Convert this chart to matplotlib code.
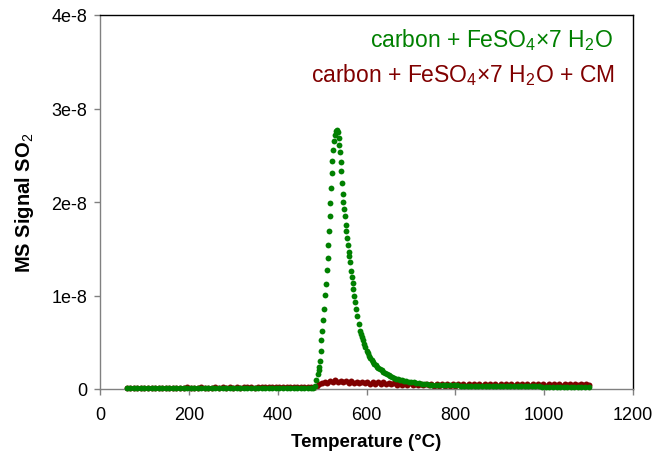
import matplotlib
matplotlib.use("Agg")
import matplotlib.pyplot as plt

plt.rcParams['font.family'] = ['Liberation Sans', 'DejaVu Sans']
plt.rcParams['mathtext.fontset'] = 'custom'
plt.rcParams['mathtext.rm'] = 'Liberation Sans'
plt.rcParams['mathtext.it'] = 'Liberation Sans:italic'
plt.rcParams['mathtext.bf'] = 'Liberation Sans:bold'

# ---- data (signal in units of 1e-8) ----
green_temp = [60, 68, 76, 84, 92, 100, 108, 116, 124, 132, 140, 148, 156, 164, 172, 180,
              188, 196, 204, 212, 220, 228, 236, 244, 252, 260, 268, 276, 284, 292, 300,
              308, 316, 324, 332, 340, 348, 356, 364, 372, 380, 388, 396, 404, 412, 420,
              428, 436, 444, 452, 460, 468, 476, 480, 484, 487, 490, 492,
              493.8, 495.3, 496.8, 498.3, 499.8, 501.3, 503.5, 506.5, 508, 510.3, 512.5,
              514, 515.6, 517.1, 518.6, 520.1, 521.6, 523.1, 524.6, 526.8, 528.3, 531.3,
              532.9, 535, 537.2, 538.7, 540.2, 541.8, 542.5, 544.8, 546.3, 547.8, 549.3,
              551.6, 553.1, 554.6, 556.1, 557.6, 559.8, 561.3, 562.9, 564.4, 566.6, 568.9,
              570.4, 572.6, 574.9, 576.4, 579.4, 582.4, 585.4, 587, 589.2, 591.5, 594.4,
              597, 600.4, 603, 606, 609, 612, 615, 618, 621, 624, 627, 630, 634, 638, 642,
              646, 650, 654, 658, 662, 666, 670, 675, 680, 685, 690, 695, 700, 706, 712,
              718, 724, 730, 736, 742, 748, 756, 764, 772, 780, 788, 796, 804, 812, 820,
              828, 836, 844, 852, 860, 868, 876, 884, 892, 900, 908, 916, 924, 932, 940,
              948, 956, 964, 972, 980, 988, 996, 1004, 1012, 1020, 1028, 1036, 1044, 1052,
              1060, 1068, 1076, 1084, 1092, 1100]
green_sig = [0.008, 0.007, 0.008, 0.008, 0.007, 0.008, 0.008, 0.007, 0.008, 0.008, 0.007,
             0.008, 0.008, 0.007, 0.008, 0.008, 0.008, 0.007, 0.008, 0.008, 0.008, 0.007,
             0.008, 0.008, 0.008, 0.009, 0.008, 0.008, 0.009, 0.008, 0.008, 0.009, 0.008,
             0.009, 0.009, 0.008, 0.009, 0.009, 0.009, 0.010, 0.009, 0.010, 0.010, 0.010,
             0.010, 0.011, 0.010, 0.011, 0.011, 0.012, 0.012, 0.013, 0.014, 0.016, 0.035,
             0.10, 0.16, 0.20,
             0.232, 0.30, 0.41, 0.52, 0.62, 0.74, 0.856, 1.005, 1.12, 1.276, 1.40,
             1.54, 1.69, 1.85, 1.99, 2.15, 2.31, 2.435, 2.56, 2.65, 2.72, 2.76,
             2.773, 2.745, 2.68, 2.61, 2.54, 2.43, 2.335, 2.20, 2.09, 2.00, 1.925,
             1.85, 1.754, 1.69, 1.615, 1.543, 1.47, 1.425, 1.355, 1.265, 1.195, 1.13,
             1.07, 0.998, 0.927, 0.856, 0.784, 0.695, 0.624, 0.59, 0.553, 0.52, 0.48,
             0.445, 0.41, 0.38, 0.355, 0.33, 0.305, 0.285, 0.27, 0.255, 0.24, 0.225, 0.214,
             0.20, 0.185, 0.17, 0.158, 0.147, 0.137, 0.128, 0.12, 0.112, 0.105, 0.098,
             0.092, 0.087, 0.082, 0.078, 0.074, 0.070, 0.066, 0.062, 0.058, 0.054, 0.050,
             0.047, 0.045, 0.044, 0.043, 0.042, 0.041, 0.040, 0.039, 0.038, 0.037, 0.036,
             0.036, 0.035, 0.034, 0.034, 0.033, 0.033, 0.032, 0.032, 0.031, 0.031, 0.030,
             0.030, 0.029, 0.029, 0.029, 0.028, 0.028, 0.028, 0.027, 0.027, 0.027, 0.026,
             0.026, 0.026, 0.026, 0.025, 0.025, 0.025, 0.025, 0.025, 0.024, 0.024, 0.024,
             0.024, 0.024]

red_temp = [60, 68, 76, 84, 92, 100, 108, 116, 124, 132, 140, 148, 156, 164, 172, 180,
            188, 196, 204, 212, 220, 228, 236, 244, 252, 260, 268, 276, 284, 292, 300,
            308, 316, 324, 332, 340, 348, 356, 364, 372, 380, 388, 396, 404, 412, 420,
            428, 436, 444, 452, 460, 468, 476, 484,
            488, 494, 500, 506, 512, 518, 524, 530, 536, 542, 548, 554, 560, 566, 572,
            578, 584, 590, 596, 602, 608, 614, 620, 626, 632, 638, 644, 650, 656, 662,
            668, 674, 680, 686, 692, 698, 704, 710, 716, 722, 728, 734, 740, 746, 752,
            758, 764, 770, 776, 782, 788, 794, 800, 806, 812, 818, 824, 830, 836, 842,
            848, 854, 860, 866, 872, 878, 884, 890, 896, 902, 908, 914, 920, 926, 932,
            938, 944, 950, 956, 962, 968, 974, 980, 986, 992, 998, 1004, 1010, 1016, 1022,
            1028, 1034, 1040, 1046, 1052, 1058, 1064, 1070, 1076, 1082, 1088, 1094, 1100]
red_sig = [0.012, 0.010, 0.014, 0.011, 0.013, 0.010, 0.015, 0.012, 0.011, 0.014, 0.012,
           0.016, 0.011, 0.013, 0.015, 0.012, 0.014, 0.017, 0.012, 0.015, 0.013, 0.018,
           0.014, 0.016, 0.013, 0.019, 0.015, 0.017, 0.014, 0.020, 0.016, 0.018, 0.015,
           0.021, 0.017, 0.019, 0.016, 0.022, 0.018, 0.020, 0.017, 0.023, 0.019, 0.021,
           0.018, 0.024, 0.020, 0.022, 0.019, 0.024, 0.021, 0.023, 0.022, 0.025,
           0.035, 0.058, 0.062, 0.078, 0.066, 0.084, 0.071, 0.092, 0.076, 0.089, 0.070,
           0.086, 0.068, 0.082, 0.064, 0.080, 0.060, 0.078, 0.059, 0.076, 0.056, 0.074,
           0.055, 0.072, 0.053, 0.070, 0.051, 0.068, 0.049, 0.066, 0.047, 0.064, 0.045,
           0.062, 0.044, 0.060, 0.042, 0.058, 0.040, 0.056, 0.039, 0.055, 0.038, 0.054,
           0.037, 0.053, 0.036, 0.052, 0.035, 0.052, 0.034, 0.051, 0.034, 0.050, 0.033,
           0.050, 0.033, 0.049, 0.032, 0.050, 0.033, 0.049, 0.032, 0.050, 0.033, 0.049,
           0.032, 0.050, 0.033, 0.051, 0.034, 0.050, 0.033, 0.051, 0.034, 0.052, 0.035,
           0.051, 0.034, 0.052, 0.035, 0.053, 0.036, 0.052, 0.035, 0.053, 0.036, 0.054,
           0.037, 0.053, 0.036, 0.054, 0.037, 0.055, 0.038, 0.054, 0.037, 0.055, 0.038,
           0.056, 0.039, 0.055, 0.040]

x_ticks = [0, 200, 400, 600, 800, 1000, 1200]
y_ticks = [0, 1, 2, 3, 4]
y_tick_labels = ['0', '1e-8', '2e-8', '3e-8', '4e-8']

label_green = r'carbon + FeSO$_4$×7 H$_2$O'
label_red = r'carbon + FeSO$_4$×7 H$_2$O + CM'

GREEN = '#008000'
RED = '#800000'
GRAY = '#808080'

fig = plt.figure(figsize=(6.52, 4.52), dpi=100)
ax = fig.add_axes([100/652, 62/452, 533/652, 374/452])

ax.plot(red_temp, red_sig, 'o', color=RED, ms=4.3, mew=0, zorder=2, clip_on=False)
ax.plot(green_temp, green_sig, 'o', color=GREEN, ms=4.2, mew=0, zorder=3, clip_on=False)

ax.set_xlim(0, 1200)
ax.set_ylim(0, 4)
ax.set_xticks(x_ticks)
ax.set_xticklabels([str(t) for t in x_ticks])
ax.set_yticks(y_ticks)
ax.set_yticklabels(y_tick_labels)

for side in ['top', 'right']:
    ax.spines[side].set_color('black')
    ax.spines[side].set_linewidth(1.0)
for side in ['left', 'bottom']:
    ax.spines[side].set_color(GRAY)
    ax.spines[side].set_linewidth(1.0)
ax.tick_params(axis='both', direction='out', length=4, width=1.0, color=GRAY,
               labelsize=13, labelcolor='black')
ax.tick_params(axis='x', pad=8.5)
ax.tick_params(axis='y', pad=5)

ax.set_xlabel('Temperature (°C)', fontsize=13.5, fontweight='bold', labelpad=7)
ax.set_ylabel(r'MS Signal SO$_2$', fontsize=14.5, fontweight='bold', labelpad=11)

ax.text(0.9625, 0.916, label_green, transform=ax.transAxes, ha='right', va='baseline',
        fontsize=16.5, color=GREEN)
ax.text(0.9655, 0.822, label_red, transform=ax.transAxes, ha='right', va='baseline',
        fontsize=16.5, color=RED)

fig.savefig('out.png', dpi=100)
